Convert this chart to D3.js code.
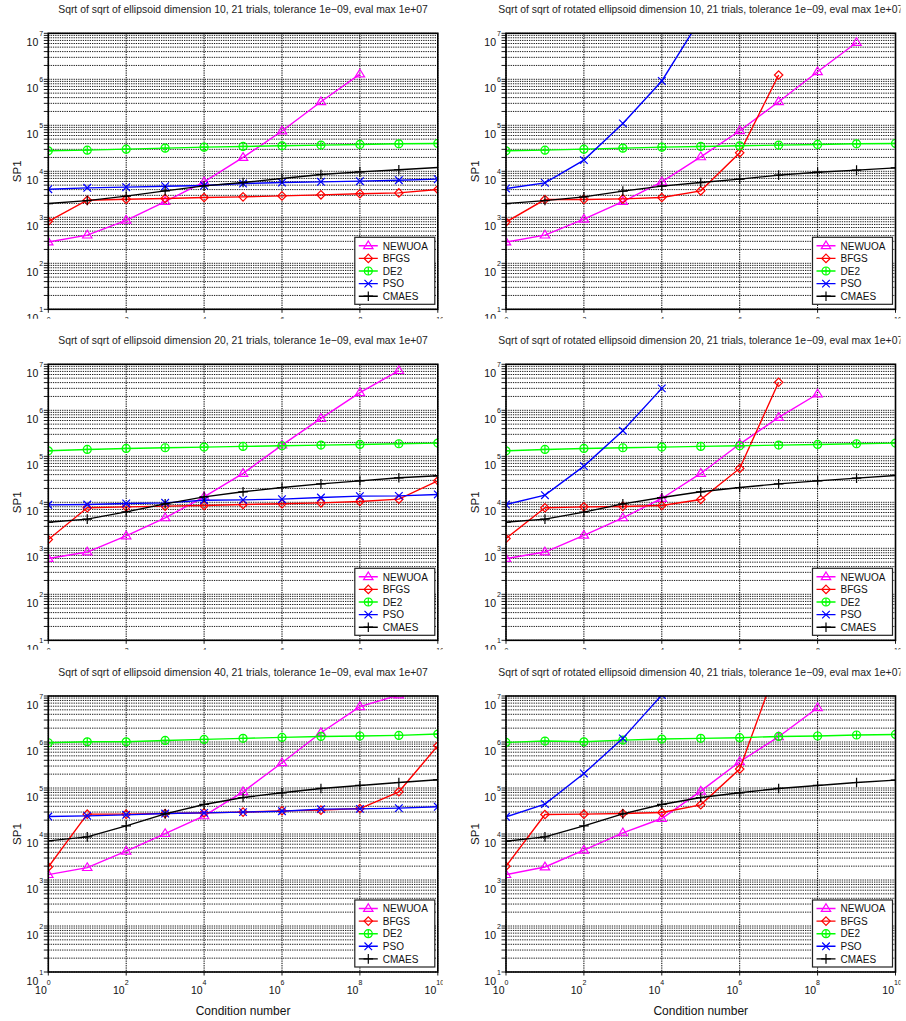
<!DOCTYPE html>
<html>
<head>
<meta charset="utf-8">
<script src="https://cdn.jsdelivr.net/npm/d3@7"></script>
<style>
  body { margin: 0; background: #fff; }
  text { font-family: 'Liberation Sans', Arial, sans-serif; fill: #111; }
</style>
</head>
<body>
<div id="chart"></div>
<script>
const width = 906,
    height = 1021

const conditionNumbers = [1, 10, 100, 1e3, 1e4, 1e5, 1e6, 1e7, 1e8, 1e9, 1e10]
const xTicks = [1, 1e2, 1e4, 1e6, 1e8, 1e10]
const xTickExponents = ['0', '2', '4', '6', '8', '10']
const yTicks = [10, 1e2, 1e3, 1e4, 1e5, 1e6, 1e7]
const yTickExponents = ['1', '2', '3', '4', '5', '6', '7']
const algorithms = ['NEWUOA', 'BFGS', 'DE2', 'PSO', 'CMAES']
const colors = ['#ff00ff', '#ff0000', '#00ff00', '#0000ff', '#000000']

const titles = [
  'Sqrt of sqrt of ellipsoid dimension 10, 21 trials, tolerance 1e\u221209, eval max 1e+07',
  'Sqrt of sqrt of rotated ellipsoid dimension 10, 21 trials, tolerance 1e\u221209, eval max 1e+07',
  'Sqrt of sqrt of ellipsoid dimension 20, 21 trials, tolerance 1e\u221209, eval max 1e+07',
  'Sqrt of sqrt of rotated ellipsoid dimension 20, 21 trials, tolerance 1e\u221209, eval max 1e+07',
  'Sqrt of sqrt of ellipsoid dimension 40, 21 trials, tolerance 1e\u221209, eval max 1e+07',
  'Sqrt of sqrt of rotated ellipsoid dimension 40, 21 trials, tolerance 1e\u221209, eval max 1e+07'
]

// SP1 per algorithm, one entry per condition number (missing = run stopped)
const ellipsoid10 = {
  NEWUOA: [290, 410, 860, 2200, 5900, 20000, 75000, 325000, 1.3e6],
  BFGS: [820, 2350, 2470, 2560, 2690, 2780, 2920, 3080, 3240, 3390, 4020],
  DE2: [27900, 28800, 30300, 31900, 33500, 34700, 35800, 37100, 38300, 39600, 40300],
  PSO: [4080, 4370, 4520, 4740, 4910, 5420, 5700, 5900, 6100, 6410, 6750],
  CMAES: [1990, 2310, 2880, 3760, 4830, 5700, 6970, 8510, 9730, 10800, 12100]
}
const rotEllipsoid10 = {
  NEWUOA: [290, 410, 910, 2200, 5900, 20600, 76000, 325000, 1.46e6, 6.3e6],
  BFGS: [790, 2430, 2430, 2510, 2690, 3760, 25200, 1.24e6],
  DE2: [27900, 28800, 30300, 31900, 33500, 34700, 35800, 37100, 38300, 39600, 40300],
  PSO: [4230, 5600, 17500, 110000, 920000, 2.1e7],
  CMAES: [1990, 2310, 2780, 3700, 4750, 5700, 6750, 8240, 9550, 10600, 11900]
}
const ellipsoid20 = {
  NEWUOA: [600, 830, 1860, 4590, 13150, 42400, 175000, 667000, 2.42e6, 7.3e6],
  BFGS: [1550, 7590, 7960, 8240, 8510, 8950, 9270, 9730, 10400, 11700, 29300],
  DE2: [131800, 141000, 148000, 153500, 158500, 164000, 169400, 175400, 181000, 187500, 193600],
  PSO: [8810, 8950, 9420, 9730, 11100, 11300, 11700, 12700, 13600, 13800, 14800],
  CMAES: [3690, 4300, 6190, 9270, 13150, 16900, 21000, 25200, 29300, 34100, 37700]
}
const rotEllipsoid20 = {
  NEWUOA: [600, 830, 1920, 4590, 12100, 42400, 184500, 701000, 2.26e6],
  BFGS: [1630, 7590, 7960, 8110, 8510, 11500, 54500, 4.06e6],
  DE2: [131800, 141000, 148000, 153500, 158500, 164000, 169400, 175400, 181000, 187500, 193600],
  PSO: [8950, 14300, 61200, 360000, 3.0e6],
  CMAES: [3690, 4300, 6100, 9270, 12700, 16900, 21000, 25200, 29300, 33500, 38300]
}
const ellipsoid40 = {
  NEWUOA: [1310, 1860, 4230, 10200, 24800, 82600, 354000, 1.59e6, 5.86e6, 1.05e7],
  BFGS: [1920, 27000, 27000, 27900, 28800, 29900, 31900, 33000, 35800, 82600, 830000],
  DE2: [964000, 1.01e6, 1.01e6, 1.08e6, 1.14e6, 1.2e6, 1.26e6, 1.32e6, 1.35e6, 1.39e6, 1.49e6],
  PSO: [24000, 24800, 26100, 27900, 28800, 29900, 31300, 34700, 35200, 36500, 39000],
  CMAES: [7080, 8670, 15000, 27400, 43900, 62200, 78700, 97700, 113500, 131800, 150700]
}
const rotEllipsoid40 = {
  NEWUOA: [1310, 1920, 4440, 10600, 21700, 85500, 371500, 1.3e6, 5.57e6],
  BFGS: [1990, 26500, 27000, 27900, 29300, 43100, 257600, 5.6e7],
  DE2: [980000, 1.05e6, 1.01e6, 1.1e6, 1.16e6, 1.2e6, 1.24e6, 1.32e6, 1.35e6, 1.42e6, 1.46e6],
  PSO: [23600, 44600, 207000, 1.2e6, 1.05e7],
  CMAES: [6970, 8670, 15000, 27400, 43900, 62200, 78700, 97700, 113500, 131800, 148300]
}

const panelData = [ellipsoid10, rotEllipsoid10, ellipsoid20, rotEllipsoid20, ellipsoid40, rotEllipsoid40]

// layout
const colLeft = [48.3, 506]
const rowTop = [33.3, 364.3, 696]
const plotW = 389.5,
    plotH = 276

const svg = d3.select('#chart')
  .append('svg')
    .attr('width', width)
    .attr('height', height)
    .attr('viewBox', `0 0 ${width} ${height}`)

const defs = svg.append('defs')

// marker shapes drawn around (0,0)
const markerPaths = {
  NEWUOA: 'M0,-4.8L4.7,2.9L-4.7,2.9Z',
  BFGS: 'M0,-4.2L4.2,0L0,4.2L-4.2,0Z',
  DE2: 'M-4,0H4M0,-4V4',
  PSO: 'M-3.8,-3.8L3.8,3.8M-3.8,3.8L3.8,-3.8',
  CMAES: 'M-4.8,0H4.8M0,-4.8V4.8'
}

function drawMarker(g, name, color) {
  if (name === 'DE2') {
    g.append('circle').attr('r', 4).attr('fill', 'none').attr('stroke', color).attr('stroke-width', 1.2)
  }
  g.append('path')
    .attr('d', markerPaths[name])
    .attr('fill', 'none')
    .attr('stroke', color)
    .attr('stroke-width', 1.2)
}

panelData.forEach(function(data, i) {
  const row = Math.floor(i / 2), col = i % 2
  const left = colLeft[col], top = rowTop[row]
  const right = left + plotW, bottom = top + plotH

  const x = d3.scaleLog().domain([1, 1e10]).range([left, right])
  const y = d3.scaleLog().domain([10, 1e7]).range([bottom, top])

  // whole panel clip (upper rows get cut just under the axis)
  const panelClip = 'panel' + i
  defs.append('clipPath').attr('id', panelClip)
    .append('rect')
      .attr('x', left - 60).attr('y', top - 40)
      .attr('width', plotW + 65)
      .attr('height', row < 2 ? plotH + 49.5 : plotH + 120)
  const plotClip = 'plot' + i
  defs.append('clipPath').attr('id', plotClip)
    .append('rect')
      .attr('x', left).attr('y', top)
      .attr('width', plotW).attr('height', plotH)

  const g = svg.append('g').attr('clip-path', `url(#${panelClip})`)

  // title
  g.append('text')
    .attr('x', (left + right) / 2)
    .attr('y', top - 20)
    .attr('text-anchor', 'middle')
    .style('font-size', '10.4px')
    .style('fill', '#222')
    .text(titles[i])

  // grid: minor + major horizontal lines
  const yGrid = []
  for (let k = 1; k < 7; k++) {
    for (let m = 1; m < 10; m++) yGrid.push(m * Math.pow(10, k))
  }
  yGrid.push(1e7)

  g.append('g')
    .selectAll('line')
    .data(yGrid)
    .join('line')
      .attr('x1', left).attr('x2', right)
      .attr('y1', d => y(d)).attr('y2', d => y(d))
      .attr('stroke', '#000')
      .attr('stroke-width', 0.9)
      .attr('stroke-dasharray', '1.3,1')

  g.append('g')
    .selectAll('line')
    .data(xTicks)
    .join('line')
      .attr('x1', d => x(d)).attr('x2', d => x(d))
      .attr('y1', top).attr('y2', bottom)
      .attr('stroke', '#000')
      .attr('stroke-width', 1)
      .attr('stroke-dasharray', '1.3,1')

  // outward ticks on left and bottom axes
  g.append('g')
    .selectAll('line')
    .data(yGrid)
    .join('line')
      .attr('x1', left - 4.5).attr('x2', left)
      .attr('y1', d => y(d)).attr('y2', d => y(d))
      .attr('stroke', '#000')
      .attr('stroke-width', 0.9)
  g.append('g')
    .selectAll('line')
    .data(xTicks)
    .join('line')
      .attr('x1', d => x(d)).attr('x2', d => x(d))
      .attr('y1', bottom).attr('y2', bottom + 3.5)
      .attr('stroke', '#000')
      .attr('stroke-width', 0.9)

  // y tick labels: 10 with superscript exponent
  const yLab = g.append('g')
  yLab.selectAll('text.base')
    .data(yTicks)
    .join('text')
      .attr('class', 'base')
      .attr('x', left - 10)
      .attr('y', d => y(d) + 13)
      .attr('text-anchor', 'end')
      .style('font-size', '10.5px')
      .text('10')
  yLab.selectAll('text.exp')
    .data(yTicks)
    .join('text')
      .attr('class', 'exp')
      .attr('x', left - 9)
      .attr('y', d => y(d) + 2.5)
      .style('font-size', '7px')
      .text((d, j) => yTickExponents[j])

  // x tick labels
  const xLab = g.append('g')
  xLab.selectAll('text.base')
    .data(xTicks)
    .join('text')
      .attr('class', 'base')
      .attr('x', d => x(d) - 1.5)
      .attr('y', bottom + 22)
      .attr('text-anchor', 'end')
      .style('font-size', '10.5px')
      .text('10')
  xLab.selectAll('text.exp')
    .data(xTicks)
    .join('text')
      .attr('class', 'exp')
      .attr('x', d => x(d) - 1.5)
      .attr('y', bottom + 12.5)
      .style('font-size', '7px')
      .text((d, j) => xTickExponents[j])

  // axis labels
  g.append('text')
    .attr('transform', `translate(${left - 27}, ${(top + bottom) / 2}) rotate(-90)`)
    .attr('text-anchor', 'middle')
    .style('font-size', '11.5px')
    .text('SP1')

  if (row === 2) {
    g.append('text')
      .attr('x', (left + right) / 2)
      .attr('y', bottom + 42.5)
      .attr('text-anchor', 'middle')
      .style('font-size', '12px')
      .text('Condition number')
  }

  // series
  const line = d3.line()
    .x((d, j) => x(conditionNumbers[j]))
    .y(d => y(d))

  const plot = g.append('g').attr('clip-path', `url(#${plotClip})`)

  algorithms.forEach(function(name, a) {
    const values = data[name]
    plot.append('path')
      .datum(values)
      .attr('d', line)
      .attr('fill', 'none')
      .attr('stroke', colors[a])
      .attr('stroke-width', 1.4)

    plot.selectAll('g.m' + a)
      .data(values)
      .join('g')
        .attr('class', 'm' + a)
        .attr('transform', (d, j) => `translate(${x(conditionNumbers[j])}, ${y(d)})`)
        .each(function() { drawMarker(d3.select(this), name, colors[a]) })
  })

  // axes box
  g.append('rect')
    .attr('x', left).attr('y', top)
    .attr('width', plotW).attr('height', plotH)
    .attr('fill', 'none')
    .attr('stroke', '#000')
    .attr('stroke-width', 1.6)

  // legend
  const lx = right - 83, ly = top + 204
  const legend = g.append('g')
  legend.append('rect')
    .attr('x', lx).attr('y', ly)
    .attr('width', 80).attr('height', 67)
    .attr('fill', '#fff')
    .attr('stroke', '#222')
    .attr('stroke-width', 1.2)

  algorithms.forEach(function(name, a) {
    const cy = ly + 8.5 + a * 12.6
    legend.append('line')
      .attr('x1', lx + 4).attr('x2', lx + 23)
      .attr('y1', cy).attr('y2', cy)
      .attr('stroke', colors[a])
      .attr('stroke-width', 1.4)
    drawMarker(legend.append('g').attr('transform', `translate(${lx + 13.5}, ${cy})`), name, colors[a])
    legend.append('text')
      .attr('x', lx + 28)
      .attr('y', cy + 3.7)
      .style('font-size', '10px')
      .text(name)
  })
})
</script>
</body>
</html>
